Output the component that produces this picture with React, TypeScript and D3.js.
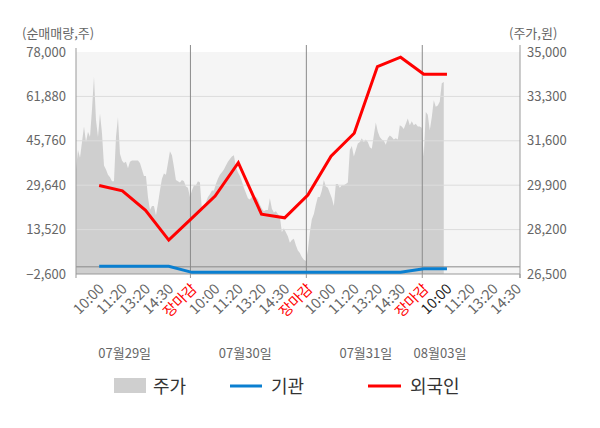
import * as d3 from "d3";

const W = 600;
const H = 428;
const M = { left: 76, right: 520, top: 52, bottom: 274 };

const LEFT_TICKS = [-2600, 13520, 29640, 45760, 61880, 78000];
const RIGHT_TICKS = [26500, 28200, 29900, 31600, 33300, 35000];
const DAY_LABELS = ["07월29일", "07월30일", "07월31일", "08월03일"];
const DAY_LABEL_SLOTS = [2.1, 7.3, 12.5, 15.7];
const TIME_LABELS = ["10:00", "11:20", "13:20", "14:30", "장마감"];

// cumulative net buying at each label point (slots 1..16)
const FOREIGN = [
  29500, 27600, 20500, 9700, 17700,
  25700, 37800, 19100, 17800, 26100,
  40200, 48500, 72700, 76100, 69900,
  69900,
];
const INSTITUTION = [
  200, 200, 200, 200, -2000,
  -2000, -2000, -2000, -2000, -2000,
  -2000, -2000, -2000, -2000, -700,
  -700,
];

// intraday price samples, 58 per full day
const PRICE_0729 = [
  30500, 31250, 30950, 31550, 32150, 31550, 31950, 31750, 32800, 34050,
  32400, 31750, 32650, 31900, 30650, 30500, 30300, 30200, 30050, 30050,
  31750, 32500, 31100, 30850, 30750, 30800, 30550, 30800, 30850, 30850,
  30850, 30850, 30750, 30500, 30250, 30250, 29450, 28950, 29100, 29100,
  28750, 29200, 29700, 30150, 30350, 30300, 30750, 31200, 31050, 30600,
  30100, 30050, 30000, 30100, 30050, 29850, 29800, 29450,
];
const PRICE_0730 = [
  29700, 29900, 29900, 30050, 30000, 28950, 29000, 29250, 29450, 29550,
  29700, 29700, 29950, 30150, 30300, 30400, 30500, 30650, 30800, 30900,
  31000, 31050, 30600, 30400, 30250, 30050, 29800, 29600, 29400, 29350,
  29450, 29400, 29450, 29350, 29150, 29000, 28900, 28950, 28950, 29400,
  29000, 28850, 28900, 28800, 28700, 28100, 28250, 28100, 27950, 27700,
  27800, 27850, 27600, 27400, 27300, 27150, 27050, 27000,
];
const PRICE_0731 = [
  27400, 28100, 28600, 28800, 29150, 29450, 29450, 29700, 30100, 29850,
  29800, 29600, 29400, 29100, 29950, 29950, 29800, 29900, 29900, 29950,
  30000, 31250, 31400, 31000, 31250, 31500, 31550, 31700, 31550, 31650,
  31550, 31350, 31300, 31800, 32300, 31950, 31750, 31650, 31600, 31450,
  31700, 31800, 31750, 31650, 31700, 31650, 32200, 32150, 32050, 32250,
  32450, 32200, 32350, 32200, 32250, 32150, 32150, 32100,
];
const PRICE_0803 = [
  31000, 32700, 32600, 32000, 32500, 33150, 32900, 32950, 33100, 33800,
  33850,
];
const PRICES = [PRICE_0729, PRICE_0730, PRICE_0731, PRICE_0803];
const PER_DAY = 58;

const FONT = "'Noto Sans CJK KR', 'Noto Sans', sans-serif";
const fmt = d3.format(",");

type P = { s: number; v: number };

export default function App() {
  const x = d3.scaleLinear().domain([0, 19.15]).range([M.left, M.right]);
  const yL = d3.scaleLinear().domain([-2600, 78000]).range([M.bottom, M.top]);
  const yR = d3.scaleLinear().domain([26500, 35000]).range([M.bottom, M.top]);

  const pricePts: P[] = PRICES.flatMap((arr, d) =>
    arr.map((v, i) => ({ s: d * 5 + (i * 5) / PER_DAY, v }))
  );
  const area = d3
    .area<P>()
    .x((p) => x(p.s))
    .y0(M.bottom)
    .y1((p) => yR(p.v));

  const line = d3
    .line<P>()
    .x((p) => x(p.s))
    .y((p) => yL(p.v));
  const foreign = FOREIGN.map((v, i) => ({ s: i + 1, v }));
  const inst = INSTITUTION.map((v, i) => ({ s: i + 1, v }));

  const xTicks: { s: number; t: string; c: string }[] = [];
  DAY_LABELS.forEach((_, d) => {
    const n = d === 3 ? 4 : 5;
    for (let k = 0; k < n; k++) {
      const t = TIME_LABELS[k];
      const c = t === "장마감" ? "#ff0000" : d === 3 && k === 0 ? "#222" : "#666";
      xTicks.push({ s: d * 5 + k + 1, t, c });
    }
  });
  const dayLines = [5, 10, 15];
  const bottomTicks = [0, 5, 10, 15, 19.15];

  return (
    <svg
      width={W}
      height={H}
      style={{ position: "absolute", left: 0, top: 0, background: "#fff" }}
      fontFamily={FONT}
    >
      <rect
        x={M.left}
        y={M.top}
        width={M.right - M.left}
        height={M.bottom - M.top}
        fill="#f5f5f5"
      />
      <path d={area(pricePts) ?? ""} fill="#cfcfcf" />

      {LEFT_TICKS.slice(1, -1).map((t) => (
        <line
          key={t}
          x1={M.left}
          x2={M.right}
          y1={yL(t)}
          y2={yL(t)}
          stroke="#dcdcdc"
          strokeWidth={1}
        />
      ))}
      <line x1={M.left} x2={M.right} y1={yL(0)} y2={yL(0)} stroke="#8a8a8a" />
      {dayLines.map((s) => (
        <line
          key={s}
          x1={x(s) - 1.5}
          x2={x(s) - 1.5}
          y1={45}
          y2={M.bottom}
          stroke="#8a8a8a"
        />
      ))}

      <line x1={M.left} x2={M.left} y1={48} y2={M.bottom} stroke="#999" />
      <line x1={M.right} x2={M.right} y1={45} y2={M.bottom + 4} stroke="#999" />
      <line x1={M.left} x2={M.right} y1={M.bottom} y2={M.bottom} stroke="#999" />
      {bottomTicks.map((s, i) => (
        <line
          key={i}
          x1={i === 0 || i === 4 ? x(s) : x(s) - 1.5}
          x2={i === 0 || i === 4 ? x(s) : x(s) - 1.5}
          y1={M.bottom}
          y2={M.bottom + 4}
          stroke="#999"
        />
      ))}

      <path d={line(inst) ?? ""} fill="none" stroke="#0a7fd0" strokeWidth={3} />
      <path d={line(foreign) ?? ""} fill="none" stroke="#ff0000" strokeWidth={3} />

      <g fontSize={13} fill="#666">
        <text x={22} y={38}>(순매매량,주)</text>
        <text x={509} y={38}>(주가,원)</text>
        {LEFT_TICKS.map((t) => (
          <text key={t} x={66} y={yL(t)} dy="0.36em" textAnchor="end">
            {fmt(t)}
          </text>
        ))}
        {RIGHT_TICKS.map((t) => (
          <text key={t} x={527} y={yR(t)} dy="0.36em">
            {fmt(t)}
          </text>
        ))}
        {DAY_LABELS.map((t, i) => (
          <text key={t} x={x(DAY_LABEL_SLOTS[i])} y={358} textAnchor="middle">
            {t}
          </text>
        ))}
      </g>
      <g fontSize={14.5} fill="#666">
        {xTicks.map((d, i) => (
          <text
            key={i}
            transform={`translate(${x(d.s) + 2},${M.bottom + 12}) rotate(-45)`}
            textAnchor="end"
            dy="0.36em"
            fill={d.c}
          >
            {d.t}
          </text>
        ))}
      </g>

      <g fontSize={18} fill="#333">
        <rect x={114} y={378} width={32} height={15} fill="#cfcfcf" />
        <text x={153} y={393}>주가</text>
        <line x1={230} x2={262} y1={386} y2={386} stroke="#0a7fd0" strokeWidth={3} />
        <text x={271} y={393}>기관</text>
        <line x1={368} x2={401} y1={386} y2={386} stroke="#ff0000" strokeWidth={3} />
        <text x={410} y={393}>외국인</text>
      </g>
    </svg>
  );
}
